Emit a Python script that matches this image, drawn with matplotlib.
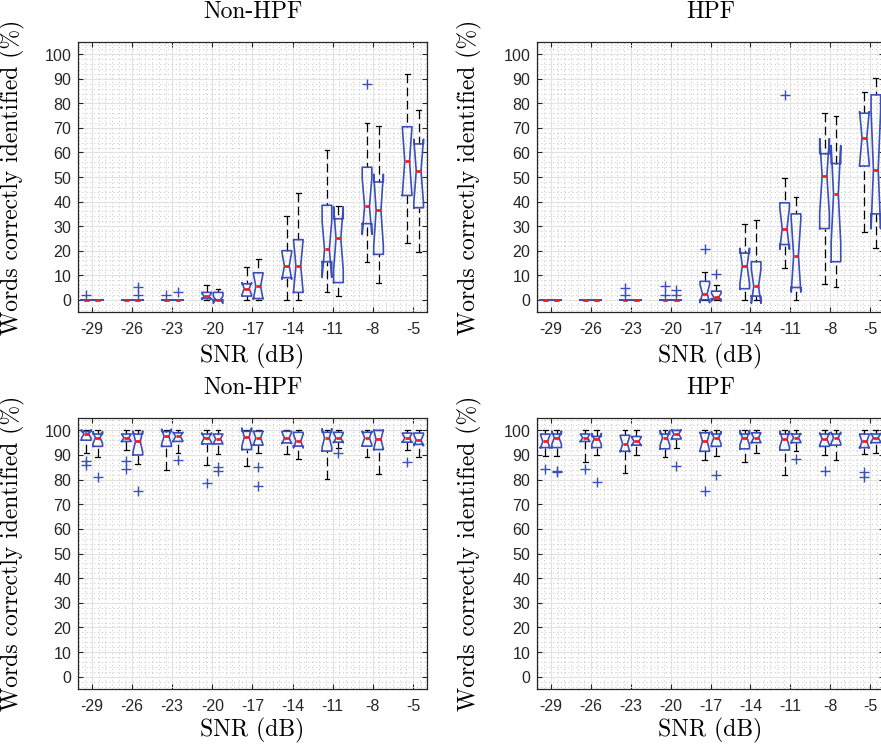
import numpy as np
import matplotlib
matplotlib.use('Agg')
import matplotlib.pyplot as plt

# SNR values, each with two boxes (A = left, B = right), listed A,B,A,B,...
snr = [-29, -26, -23, -20, -17, -14, -11, -8, -5]
snr_labels = ['-29', '-26', '-23', '-20', '-17', '-14', '-11', '-8', '-5']
y_ticks = [0, 10, 20, 30, 40, 50, 60, 70, 80, 90, 100]
n_subjects = 10

# top row, Non-HPF
t_non_q1 = [0, 0, 0, 0, 0, 0, 0.5, 0, 1.5, 0.5, 9, 3, 15.5, 7, 31, 18.5, 42.5, 37.5]
t_non_med = [0, 0, 0, 0, 0, 0, 1.4, 0, 4.5, 5.5, 13.8, 13.8, 20.5, 25, 38, 36.5, 56.5, 52.5]
t_non_q3 = [0, 0, 0, 0, 0, 0, 3, 3, 6.5, 11, 20, 24.5, 38.5, 33, 54, 48, 70.5, 63.5]
t_non_lo = [0, 0, 0, 0, 0, 0, 0, 0, 0, 0, 0, 0, 3, 1.5, 15.5, 7, 23, 19.5]
t_non_hi = [0, 0, 0, 0, 0, 0, 6, 4.5, 13.5, 16.5, 34, 43.5, 61, 38, 72, 71, 92, 77.5]
t_non_fl = [[2], [], [], [2, 5], [2], [3], [], [], [], [], [], [], [], [], [88], [], [], []]

# top row, HPF
t_hpf_q1 = [0, 0, 0, 0, 0, 0, 0, 0, 0, 0.3, 4.5, 1.5, 22.5, 5, 29, 15.5, 54.5, 35]
t_hpf_med = [0, 0, 0, 0, 0, 0, 0, 0, 2.5, 1, 13.8, 5.5, 29, 18, 50.5, 43, 66, 53]
t_hpf_q3 = [0, 0, 0, 0, 0, 0, 0, 0, 7.5, 3.5, 19, 15.5, 39.5, 35, 59.5, 55.5, 76, 83.5]
t_hpf_lo = [0, 0, 0, 0, 0, 0, 0, 0, 0, 0, 0, 0, 13, 0, 6.5, 5, 27.5, 21]
t_hpf_hi = [0, 0, 0, 0, 0, 0, 0, 0, 11.5, 6, 31, 32.5, 49.5, 42, 76, 75, 84.5, 90.5]
t_hpf_fl = [[], [], [], [], [2, 4.7], [], [2, 5.5], [2, 4], [20.5], [10.5], [], [], [83.5], [], [], [], [], []]

# bottom row, Non-HPF
b_non_q1 = [96, 93.5, 95.5, 90, 93.5, 95.5, 94.5, 94.5, 92.2, 94, 94.9, 93.6, 91.6, 95.2, 93.6, 92.2, 95.2, 94.3]
b_non_med = [98.5, 97, 97, 95.5, 97.5, 97.5, 97, 96.5, 97.3, 96.9, 96.9, 95.6, 96.9, 96.9, 96.9, 96.3, 96.9, 96]
b_non_q3 = [99.5, 98.5, 98.5, 98.5, 99.5, 99, 98.5, 98.5, 99.6, 99.6, 99.6, 99.2, 99.2, 99.2, 99.2, 100, 98.9, 98.9]
b_non_lo = [91, 89, 92, 86.5, 84, 91, 86, 90.5, 85.6, 90.9, 90.2, 88.5, 80.1, 93, 89.3, 82.1, 92.2, 89.3]
b_non_hi = [100] * 18
b_non_fl = [[87.5, 86], [81], [87.5, 84.5], [75.5], [], [88], [78.5], [85, 83.5], [], [85, 77.5],
            [], [], [], [90.8], [], [], [87], []]

# bottom row, HPF
b_hpf_q1 = [93, 93, 95.5, 93, 91.5, 94, 92.5, 96.5, 91.5, 93.5, 92.5, 95, 92, 95, 93.5, 94, 93, 95]
b_hpf_med = [95.5, 97, 97, 96.5, 94.5, 95.5, 97, 98.5, 95.5, 97, 97, 97, 96.5, 97, 96.5, 97, 95.5, 97]
b_hpf_q3 = [98.5, 98.5, 98.5, 97.5, 98, 97.5, 98.5, 100, 99, 98.5, 98.5, 99, 98.5, 98.5, 98.5, 98.5, 98.5, 98.5]
b_hpf_lo = [89.5, 89.5, 87, 90, 82.5, 90, 89, 93, 88, 89.5, 87, 91, 82, 91.5, 90, 88, 90.5, 91]
b_hpf_hi = [100] * 18
b_hpf_fl = [[84.5], [83.5, 83], [84.5], [79], [], [], [], [85.5], [75.5], [82],
            [], [], [], [88.5], [83.5], [], [83, 81], []]

blue = '#3a4fb8'
dark = '#262626'
serif = ['cmr10', 'DejaVu Serif']
plt.rcParams['font.family'] = ['Liberation Sans', 'DejaVu Sans']
plt.rcParams['axes.formatter.use_mathtext'] = True

fig = plt.figure(figsize=(8.81, 7.47), dpi=100)


def panel(rect, title, q1, med, q3, lo, hi, fl, lab_x, xlab_y):
    ax = fig.add_axes(rect)
    stats = []
    for i in range(len(med)):
        half = 1.57 * (q3[i] - q1[i]) / np.sqrt(n_subjects)
        stats.append(dict(med=med[i], q1=q1[i], q3=q3[i], whislo=lo[i], whishi=hi[i],
                          fliers=fl[i], cilo=med[i] - half, cihi=med[i] + half))
    pos = [s + off for s in snr for off in (-0.43, 0.43)]
    art = ax.bxp(stats, positions=pos, widths=0.72, shownotches=True, manage_ticks=False,
                 boxprops=dict(color=blue, lw=1.2, zorder=4),
                 whiskerprops=dict(color='black', lw=0.9, linestyle=(0, (7, 3.5)), zorder=3),
                 capprops=dict(color='black', lw=0.9, zorder=3),
                 medianprops=dict(color='#ff1a1a', lw=2.0, zorder=5),
                 flierprops=dict(marker='+', markeredgecolor=blue, markersize=7, markeredgewidth=1.0,
                                 linestyle='none', zorder=5))
    # dashes start at the whisker end, as in the original
    for w in art['whiskers']:
        w.set_ydata(w.get_ydata()[::-1])

    ax.set_xlim(-30.05, -3.95)
    ax.set_ylim(-5, 105)
    ax.set_xticks(snr)
    ax.set_xticklabels(snr_labels)
    ax.set_yticks(y_ticks)
    ax.set_xticks(np.arange(-30, -3.9, 0.5), minor=True)
    ax.set_yticks(np.arange(-4, 105, 2), minor=True)
    ax.grid(which='major', color='#e2e2e2', lw=0.8, linestyle='-')
    ax.grid(which='minor', color='#cccccc', lw=0.7, linestyle=(0, (1.2, 2.8)))
    ax.set_axisbelow(True)
    ax.tick_params(which='major', direction='in', top=True, right=True, length=3.5,
                   width=0.8, color=dark, labelsize=11.5, labelcolor=dark)
    ax.tick_params(axis='x', which='major', pad=7)
    ax.tick_params(axis='y', which='major', pad=4)
    ax.tick_params(which='minor', length=0)
    for sp in ax.spines.values():
        sp.set_color(dark)
        sp.set_linewidth(0.9)

    ax.set_title(title, family=serif, fontsize=17, y=1.08, va='center', color='black')
    ax.set_ylabel('Words correctly identified (%)', family=serif, fontsize=17, color='black')
    ax.yaxis.set_label_coords(lab_x, 0.5)
    ax.set_xlabel('SNR (dB)', family=serif, fontsize=17, color='black', va='center')
    ax.xaxis.set_label_coords(0.5, xlab_y)
    return ax


panel([0.0885, 0.5823, 0.3961, 0.3614], 'Non-HPF',
      t_non_q1, t_non_med, t_non_q3, t_non_lo, t_non_hi, t_non_fl, -0.152, -0.163)
panel([0.6095, 0.5823, 0.394, 0.3614], 'HPF',
      t_hpf_q1, t_hpf_med, t_hpf_q3, t_hpf_lo, t_hpf_hi, t_hpf_fl, -0.158, -0.163)
panel([0.0885, 0.0776, 0.3961, 0.3628], 'Non-HPF',
      b_non_q1, b_non_med, b_non_q3, b_non_lo, b_non_hi, b_non_fl, -0.152, -0.151)
panel([0.6095, 0.0776, 0.394, 0.3628], 'HPF',
      b_hpf_q1, b_hpf_med, b_hpf_q3, b_hpf_lo, b_hpf_hi, b_hpf_fl, -0.158, -0.151)

fig.savefig('out.png', dpi=100)
